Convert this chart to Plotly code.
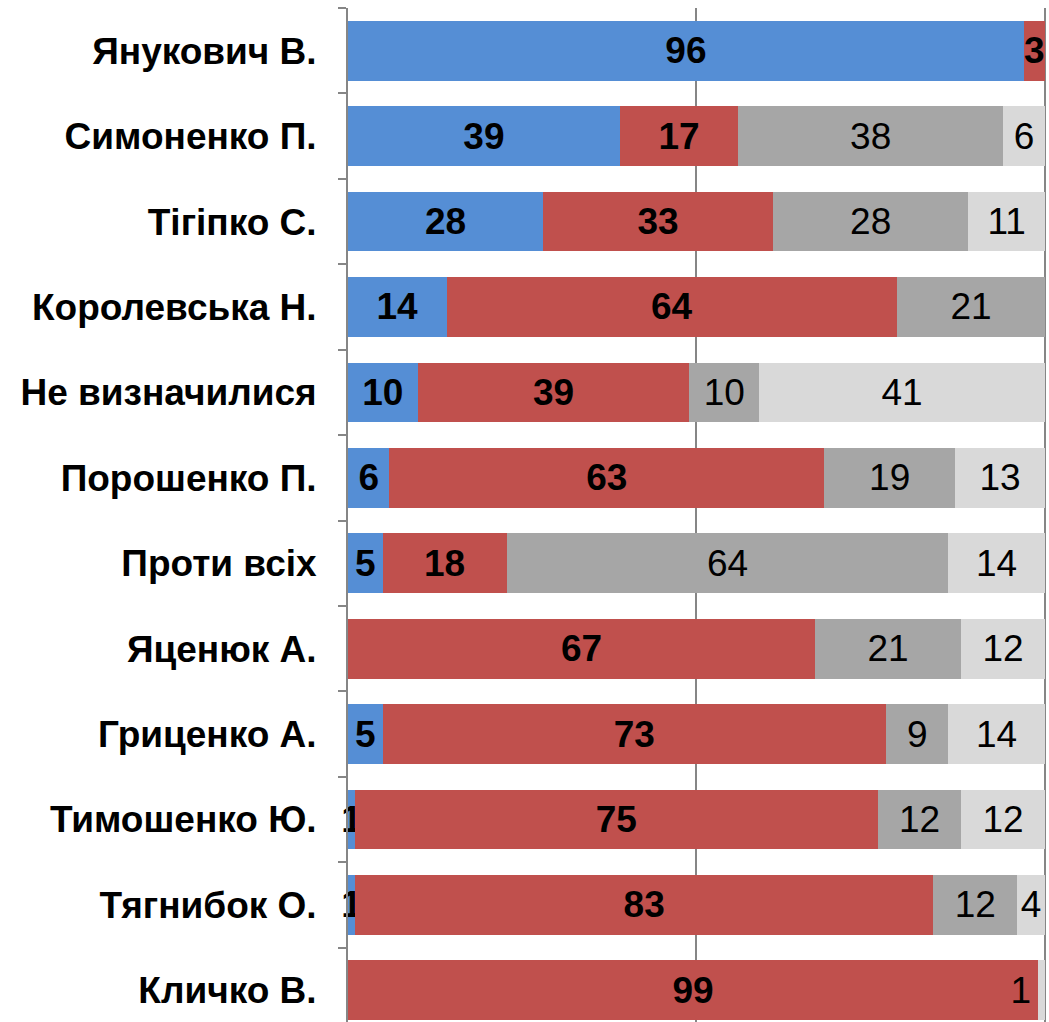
import plotly.graph_objects as go

categories = ["Янукович В.", "Симоненко П.", "Тігіпко С.", "Королевська Н.",
              "Не визначилися", "Порошенко П.", "Проти всіх", "Яценюк А.",
              "Гриценко А.", "Тимошенко Ю.", "Тягнибок О.", "Кличко В."]

blue_vals = [96, 39, 28, 14, 10, 6, 5, 0, 5, 1, 1, 0]
red_vals = [3, 17, 33, 64, 39, 63, 18, 67, 73, 75, 83, 99]
dark_vals = [0, 38, 28, 21, 10, 19, 64, 21, 9, 12, 12, 0]
light_vals = [0, 6, 11, 0, 41, 13, 14, 12, 14, 12, 4, 1]

series = [
    (blue_vals, "#558ED5", "bold"),
    (red_vals, "#C0504D", "bold"),
    (dark_vals, "#A6A6A6", "normal"),
    (light_vals, "#D9D9D9", "normal"),
]

FONT = "Liberation Sans, Arial, sans-serif"
FS = 37

fig = go.Figure()
for idx, (vals, color, weight) in enumerate(series):
    texts = [str(v) if v else "" for v in vals]
    if idx == 3:
        # keep the last label inside the plot area, like the original
        texts[-1] = texts[-1] + "\u00a0" * 4
    fig.add_trace(go.Bar(
        y=categories, x=vals, orientation="h",
        marker=dict(color=color, line=dict(width=0)),
        text=texts, textposition="inside", insidetextanchor="middle",
        textangle=0, constraintext="none", cliponaxis=False,
        textfont=dict(family=FONT, size=FS, color="black", weight=weight),
        hoverinfo="skip", showlegend=False,
    ))

fig.update_layout(
    barmode="stack", barnorm="percent", bargap=0.3,
    width=1049, height=1022,
    margin=dict(l=348, r=2, t=8, b=0),
    paper_bgcolor="white", plot_bgcolor="white",
    uniformtext=dict(mode="show", minsize=FS),
    showlegend=False,
)
fig.update_xaxes(range=[0, 100.3], dtick=50, showticklabels=False,
                 showgrid=True, gridcolor="#868686", gridwidth=1.5,
                 zeroline=False, showline=False, fixedrange=True)
fig.update_yaxes(autorange=False, range=[11.37, -0.5],
                 categoryorder="array", categoryarray=categories,
                 showline=True, linecolor="#868686", linewidth=2,
                 ticks="outside", tickson="boundaries", ticklen=8,
                 tickcolor="#868686", tickwidth=2,
                 tickfont=dict(family=FONT, size=FS, color="black", weight="bold"),
                 ticklabelstandoff=22, showgrid=False, fixedrange=True)

fig.write_html("out.html", config={"displayModeBar": False},
               post_script="document.body.style.margin='0';document.body.style.overflow='hidden';")
